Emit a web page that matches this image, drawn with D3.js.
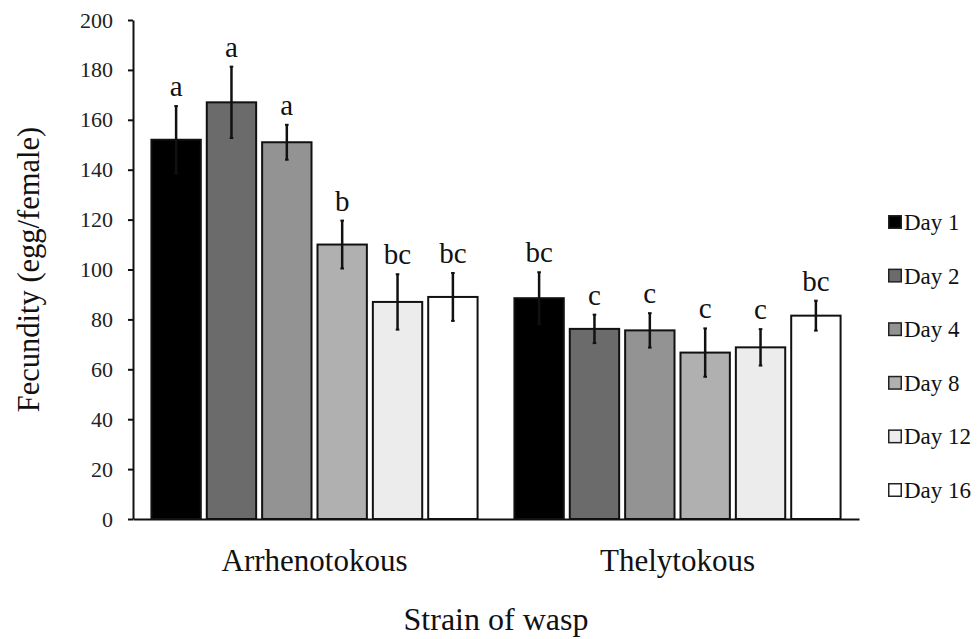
<!DOCTYPE html>
<html>
<head>
<meta charset="utf-8">
<script src="https://cdn.jsdelivr.net/npm/d3@7/dist/d3.min.js"></script>
<style>
	body { margin: 0; background: #fff; }
	svg text { font-family: "Liberation Serif", "Times New Roman", serif !important; }
</style>
</head>
<body>
<div id="chart"></div>
<script>
// values
const strains = ["Arrhenotokous", "Thelytokous"];
const days = ["Day 1", "Day 2", "Day 4", "Day 8", "Day 12", "Day 16"];
const arrhenotokousMeans = [152, 167, 151, 110, 87, 89];
const arrhenotokousErrors = [13.5, 14.3, 7, 9.6, 11.1, 9.6];
const arrhenotokousLetters = ["a", "a", "a", "b", "bc", "bc"];
const thelytokousMeans = [88.5, 76.2, 75.6, 66.7, 68.8, 81.5];
const thelytokousErrors = [10.4, 5.7, 6.9, 9.7, 7.3, 6];
const thelytokousLetters = ["bc", "c", "c", "c", "c", "bc"];
const yTicks = [0, 20, 40, 60, 80, 100, 120, 140, 160, 180, 200];

const means = [arrhenotokousMeans, thelytokousMeans],
	errors = [arrhenotokousErrors, thelytokousErrors],
	letters = [arrhenotokousLetters, thelytokousLetters];

// flat list of bars, one per strain x day
const bars = strains.flatMap((s, i) => days.map((d, j) => ({
	strain: s, day: d, value: means[i][j], err: errors[i][j], letter: letters[i][j]
})));

const width = 979, height = 639,
	margin = {top: 20, right: 120, bottom: 120, left: 133},
	innerW = width - margin.left - margin.right,
	innerH = height - margin.top - margin.bottom;

const fill = d3.scaleOrdinal()
	.domain(days)
	.range(["#000000", "#6b6b6b", "#939393", "#b0b0b0", "#ececec", "#ffffff"]);

const y = d3.scaleLinear().domain([0, 200]).range([innerH, 0]);

const x0 = d3.scaleBand()
	.domain(strains)
	.range([0, innerW])
	.paddingInner(0.096)
	.paddingOuter(0.048);

const x1 = d3.scaleBand()
	.domain(days)
	.range([0, x0.bandwidth()])
	.paddingInner(0.072);

const svg = d3.select("#chart").append("svg")
	.attr("width", width)
	.attr("height", height);

const chart = svg.append("g")
	.attr("transform", `translate(${margin.left},${margin.top})`);

// bars
const groups = chart.selectAll(".bar")
	.data(bars)
	.enter()
	.append("g")
	.attr("class", "bar")
	.attr("transform", d => `translate(${x0(d.strain) + x1(d.day)},0)`);

groups.append("rect")
	.attr("x", 1)
	.attr("width", x1.bandwidth() - 2)
	.attr("y", d => y(d.value))
	.attr("height", d => innerH - y(d.value))
	.attr("fill", d => fill(d.day))
	.attr("stroke", "#111")
	.attr("stroke-width", 2);

// error bars
const cx = x1.bandwidth() / 2;
groups.append("line")
	.attr("x1", cx).attr("x2", cx)
	.attr("y1", d => y(d.value + d.err))
	.attr("y2", d => y(d.value - d.err))
	.attr("stroke", "#111")
	.attr("stroke-width", 2.5);

groups.selectAll(".cap")
	.data(d => [d.value + d.err, d.value - d.err])
	.enter()
	.append("line")
	.attr("class", "cap")
	.attr("x1", cx - 1.8).attr("x2", cx + 1.8)
	.attr("y1", v => y(v)).attr("y2", v => y(v))
	.attr("stroke", "#111")
	.attr("stroke-width", 2);

// significance letters
groups.append("text")
	.attr("x", cx)
	.attr("y", d => y(d.value + d.err) - 10)
	.attr("text-anchor", "middle")
	.attr("font-size", 29)
	.attr("fill", "#111")
	.text(d => d.letter);

// axes
const yAxis = chart.append("g")
	.call(d3.axisLeft(y).tickValues(yTicks).tickSize(5).tickPadding(15).tickSizeOuter(0))
	.attr("font-family", null);
yAxis.select(".domain").attr("stroke", "#111").attr("stroke-width", 2);
yAxis.selectAll(".tick line").attr("stroke", "#111").attr("stroke-width", 2);
yAxis.selectAll("text").style("font-size", "22px").attr("fill", "#222");

const xAxis = chart.append("g")
	.attr("transform", `translate(0,${innerH})`)
	.call(d3.axisBottom(x0).tickSize(0).tickSizeOuter(0).tickPadding(30))
	.attr("font-family", null);
xAxis.select(".domain").attr("stroke", "#111").attr("stroke-width", 2);
xAxis.selectAll("text").style("font-size", "31px").attr("fill", "#111");

// axis titles
svg.append("text")
	.attr("x", margin.left + innerW / 2)
	.attr("y", 630)
	.attr("text-anchor", "middle")
	.attr("font-size", 32)
	.attr("fill", "#111")
	.text("Strain of wasp");

svg.append("text")
	.attr("transform", `translate(39,${margin.top + innerH / 2}) rotate(-90)`)
	.attr("text-anchor", "middle")
	.attr("font-size", 30.5)
	.attr("fill", "#111")
	.text("Fecundity (egg/female)");

// legend
const legend = svg.append("g")
	.attr("transform", "translate(888,222)")
	.selectAll("g")
	.data(days)
	.enter()
	.append("g")
	.attr("transform", (d, i) => `translate(0,${i * 53.6})`);

legend.append("rect")
	.attr("x", 0.75).attr("y", -6.25)
	.attr("width", 12.5).attr("height", 12.5)
	.attr("fill", d => fill(d))
	.attr("stroke", "#222")
	.attr("stroke-width", 1.5);

legend.append("text")
	.attr("x", 16)
	.attr("y", 0)
	.attr("dy", "0.35em")
	.attr("font-size", 23)
	.attr("fill", "#111")
	.text(d => d);
</script>
</body>
</html>
